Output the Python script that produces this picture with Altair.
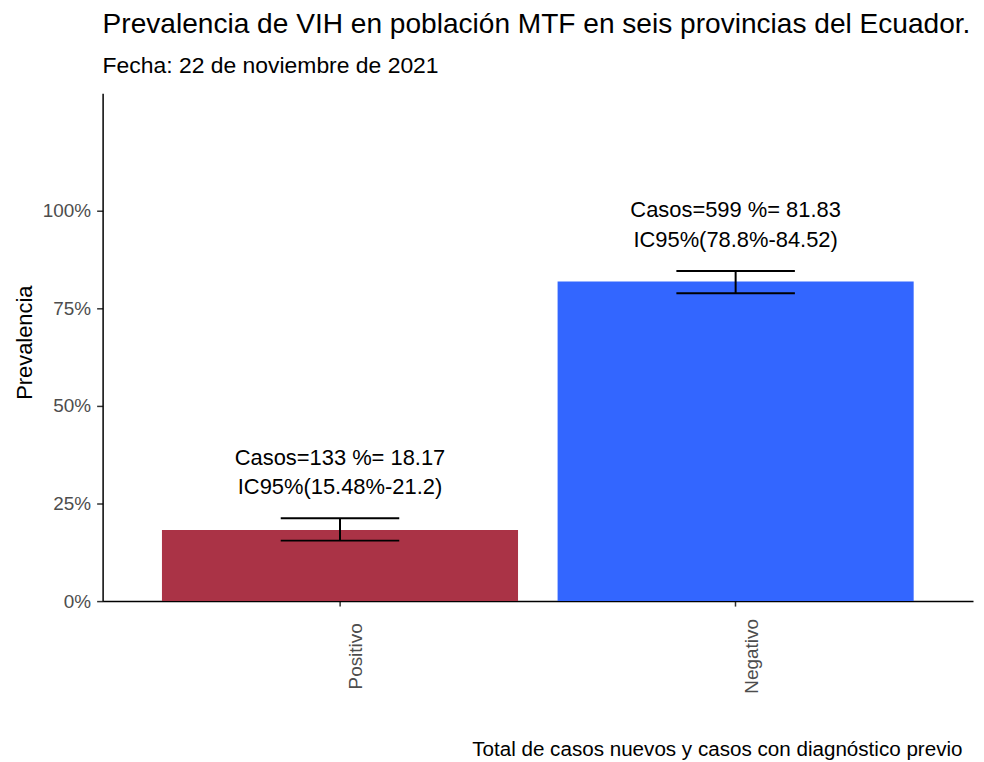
import altair as alt
import pandas as pd

categorias = ["Positivo", "Negativo"]
casos = [133, 599]
porcentaje = [18.17, 81.83]
ic_inf = [15.48, 78.8]
ic_sup = [21.2, 84.52]
colores = ["#AA3346", "#3366FF"]

titulo = "Prevalencia de VIH en población MTF en seis provincias del Ecuador."
subtitulo = "Fecha: 22 de noviembre de 2021"
eje_y = "Prevalencia"
eje_x = "Total de casos nuevos y casos con diagnóstico previo"

df = pd.DataFrame({
    "cat": categorias,
    "prev": [p / 100 for p in porcentaje],
    "lo": [v / 100 for v in ic_inf],
    "hi": [v / 100 for v in ic_sup],
    "l1": [f"Casos={c} %= {p}" for c, p in zip(casos, porcentaje)],
    "l2": [f"IC95%({a}%-{b})" for a, b in zip(ic_inf, ic_sup)],
})

FONT = "Liberation Sans"
xscale = alt.Scale(domain=categorias, paddingInner=0.1, paddingOuter=0.15)
yscale = alt.Scale(domain=[0, 1.3], nice=False, zero=True)

x = alt.X(
    "cat:N", scale=xscale, sort=categorias, title=eje_x,
    axis=alt.Axis(
        labelAngle=270, labelAlign="center", labelBaseline="alphabetic",
        labelOffset=22, labelPadding=50, labelFontSize=19, labelColor="#4D4D4D",
        labelFont=FONT, tickSize=5, tickColor="#333333", tickWidth=1.5,
        domainColor="#000000", domainWidth=1.5,
        titleFont=FONT, titleFontSize=20.7, titleFontWeight="normal", titleColor="#000000",
        titleAlign="right", titleAnchor="end", titleBaseline="alphabetic",
        titleX=863, titleY=155,
    ),
)
y = alt.Y(
    "prev:Q", scale=yscale, title=eje_y,
    axis=alt.Axis(
        values=[0, 0.25, 0.5, 0.75, 1.0], format=".0%", grid=False,
        labelFontSize=19, labelColor="#4D4D4D", labelFont=FONT, labelPadding=6,
        tickSize=6, tickColor="#333333", tickWidth=1.5,
        domainColor="#000000", domainWidth=1.5,
        titleFont=FONT, titleFontSize=22, titleFontWeight="normal", titleColor="#000000",
        titleAngle=270, titleAlign="center", titleBaseline="alphabetic",
        titleX=-71, titleY=250,
    ),
)

base = alt.Chart(df)
bars = base.mark_bar().encode(
    x=x, y=y,
    color=alt.Color("cat:N", scale=alt.Scale(domain=categorias, range=colores), legend=None),
)
rule = base.mark_rule(color="#000000", strokeWidth=2).encode(
    x=alt.X("cat:N", scale=xscale, sort=categorias), y=alt.Y("lo:Q", scale=yscale), y2="hi:Q"
)
cap_lo = base.mark_tick(color="#000000", thickness=2, size=119, orient="horizontal", opacity=1).encode(
    x=alt.X("cat:N", scale=xscale, sort=categorias), y=alt.Y("lo:Q", scale=yscale)
)
cap_hi = base.mark_tick(color="#000000", thickness=2, size=119, orient="horizontal", opacity=1).encode(
    x=alt.X("cat:N", scale=xscale, sort=categorias), y=alt.Y("hi:Q", scale=yscale)
)
t1 = base.mark_text(font=FONT, fontSize=22, color="#000000", baseline="alphabetic", align="center", dy=-54).encode(
    x=alt.X("cat:N", scale=xscale, sort=categorias), y=alt.Y("hi:Q", scale=yscale), text="l1:N"
)
t2 = base.mark_text(font=FONT, fontSize=22, color="#000000", baseline="alphabetic", align="center", dy=-24).encode(
    x=alt.X("cat:N", scale=xscale, sort=categorias), y=alt.Y("hi:Q", scale=yscale), text="l2:N"
)

chart = alt.layer(bars, rule, cap_lo, cap_hi, t1, t2).properties(
    width=874, height=510,
    title=alt.TitleParams(
        text=titulo, subtitle=subtitulo, anchor="start", frame="group",
        font=FONT, fontSize=28.2, fontWeight="normal", color="#000000",
        subtitleFont=FONT, subtitleFontSize=23, subtitleColor="#000000",
        offset=14, subtitlePadding=16,
    ),
    autosize=alt.AutoSizeParams(type="none"),
    padding={"left": 95, "top": 84, "right": 3, "bottom": 160},
).configure(
    background="#FFFFFF",
    view=alt.ViewConfig(stroke="transparent", strokeWidth=0),
)

chart.save("out.html", embed_options={"renderer": "svg", "actions": False})
